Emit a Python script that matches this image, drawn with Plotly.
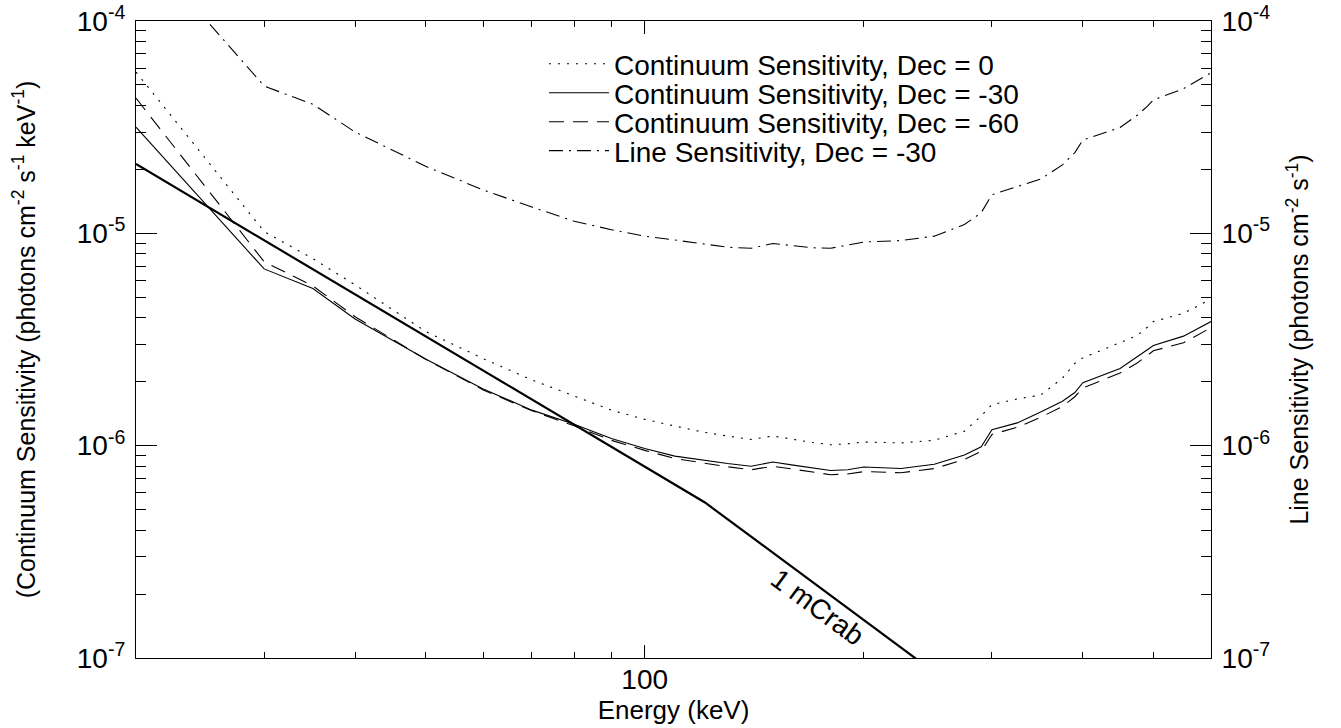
import numpy as np
import plotly.graph_objects as go

# energies (keV) where the sensitivity curves are sampled
energy = [20, 30, 35, 40, 50, 60, 70, 80, 90, 100, 110, 120, 130, 140, 150, 160, 170,
          180, 190, 200, 225, 250, 275, 290, 300, 325, 350, 375, 390, 400, 450, 475,
          490, 500, 550, 600]

cont_dec0 = [5.75e-5, 1.02e-5, 7.6e-6, 5.72e-6, 3.45e-6, 2.57e-6, 2.04e-6, 1.71e-6, 1.47e-6,
             1.33e-6, 1.24e-6, 1.16e-6, 1.11e-6, 1.07e-6, 1.11e-6, 1.07e-6, 1.035e-6,
             1.01e-6, 1.02e-6, 1.04e-6, 1.03e-6, 1.06e-6, 1.17e-6, 1.38e-6, 1.56e-6,
             1.66e-6, 1.73e-6, 2.08e-6, 2.44e-6, 2.59e-6, 3.04e-6, 3.3e-6, 3.6e-6,
             3.84e-6, 4.2e-6, 4.9e-6]

cont_dec30 = [3.16e-5, 6.8e-6, 5.5e-6, 3.95e-6, 2.56e-6, 1.85e-6, 1.47e-6, 1.26e-6, 1.08e-6,
              9.7e-7, 8.93e-7, 8.55e-7, 8.24e-7, 8.0e-7, 8.37e-7, 8.1e-7, 7.85e-7,
              7.64e-7, 7.7e-7, 7.93e-7, 7.81e-7, 8.18e-7, 9.04e-7, 9.88e-7, 1.19e-6,
              1.28e-6, 1.44e-6, 1.62e-6, 1.78e-6, 1.98e-6, 2.31e-6, 2.61e-6, 2.82e-6,
              2.96e-6, 3.28e-6, 3.84e-6]

cont_dec60 = [4.33e-5, 7.35e-6, 5.65e-6, 4.05e-6, 2.55e-6, 1.83e-6, 1.46e-6, 1.24e-6, 1.06e-6,
              9.5e-7, 8.7e-7, 8.3e-7, 7.95e-7, 7.7e-7, 8.0e-7, 7.75e-7, 7.5e-7,
              7.3e-7, 7.35e-7, 7.55e-7, 7.45e-7, 7.8e-7, 8.6e-7, 9.4e-7, 1.13e-6,
              1.22e-6, 1.36e-6, 1.53e-6, 1.7e-6, 1.87e-6, 2.2e-6, 2.45e-6, 2.65e-6,
              2.8e-6, 3.05e-6, 3.6e-6]

line_dec30 = [2.4e-4, 4.94e-5, 4.05e-5, 3.0e-5, 2.07e-5, 1.6e-5, 1.33e-5, 1.14e-5, 1.04e-5,
              9.7e-6, 9.3e-6, 8.9e-6, 8.6e-6, 8.5e-6, 8.95e-6, 8.75e-6, 8.55e-6,
              8.5e-6, 8.8e-6, 9.1e-6, 9.25e-6, 9.7e-6, 1.1e-5, 1.25e-5, 1.52e-5,
              1.66e-5, 1.8e-5, 2.1e-5, 2.4e-5, 2.75e-5, 3.15e-5, 3.6e-5, 3.95e-5,
              4.25e-5, 4.8e-5, 5.7e-5]

crab_energy = [20, 121, 600]
crab_flux = [2.12e-5, 5.4e-7, 9.3e-9]

x_minor = [30, 40, 50, 60, 70, 80, 90, 200, 300, 400, 500]
y_major = [1e-7, 1e-6, 1e-5, 1e-4]
y_labels = ['10<sup>-7</sup>', '10<sup>-6</sup>', '10<sup>-5</sup>', '10<sup>-4</sup>']
y_minor = [m * 10.0**d for d in (-7, -6, -5) for m in range(2, 10)]

FONT = 'Liberation Sans, Arial, Helvetica, sans-serif'

fig = go.Figure()

curves = [
    ('Continuum Sensitivity, Dec = 0', cont_dec0, '2px,7px', 'y', 'legend'),
    ('Continuum Sensitivity, Dec = -30', cont_dec30, 'solid', 'y', 'legend2'),
    ('Continuum Sensitivity, Dec = -60', cont_dec60, '15px,9px', 'y', 'legend3'),
    ('Line Sensitivity, Dec = -30', line_dec30, '14px,6px,2px,6px', 'y2', 'legend4'),
]
for name, vals, dash, yax, leg in curves:
    fig.add_trace(go.Scatter(x=energy, y=vals, name=name, mode='lines', yaxis=yax,
                             legend=leg, line=dict(color='black', width=1.1, dash=dash)))

fig.add_trace(go.Scatter(x=crab_energy, y=crab_flux, mode='lines', showlegend=False,
                         line=dict(color='black', width=2.2)))

fig.add_annotation(x=np.log10(173), y=-6.76, text='1 mCrab', showarrow=False,
                   textangle=36.5, font=dict(size=28, color='black', family=FONT))

leg_rows = [0.9325, 0.887, 0.8414, 0.796]
leg_common = dict(x=0.3795, xanchor='left', yanchor='middle', bgcolor='rgba(0,0,0,0)',
                  font=dict(size=28, color='black', family=FONT), itemwidth=60)
fig.update_layout(
    legend=dict(y=leg_rows[0], **leg_common),
    legend2=dict(y=leg_rows[1], **leg_common),
    legend3=dict(y=leg_rows[2], **leg_common),
    legend4=dict(y=leg_rows[3], **leg_common),
)

axis_common = dict(type='log', showgrid=False, zeroline=False, showline=True,
                   linecolor='black', linewidth=1, ticks='inside', tickcolor='black',
                   tickwidth=1, automargin=False, ticklabeloverflow='allow')

fig.update_layout(
    width=1341, height=728,
    margin=dict(l=136, r=130, t=21, b=70),
    paper_bgcolor='white', plot_bgcolor='white',
    font=dict(family=FONT, color='black', size=26),
    xaxis=dict(range=[np.log10(20), np.log10(600)], tickvals=[100], ticktext=['100'],
               ticklen=13, mirror='ticks', tickfont=dict(size=28), ticklabelstandoff=-4,
               minor=dict(tickvals=x_minor, ticks='inside', ticklen=6, tickcolor='black'),
               title=dict(text='Energy (keV)', font=dict(size=26), standoff=2),
               **axis_common),
    yaxis=dict(range=[-7, -4], tickvals=y_major, ticktext=y_labels, ticklen=21,
               tickfont=dict(size=28), ticklabelstandoff=4,
               minor=dict(tickvals=y_minor, ticks='inside', ticklen=10, tickcolor='black'),
               title=dict(text='(Continuum Sensitivity (photons cm<sup>-2</sup> s<sup>-1</sup> keV<sup>-1</sup>)',
                          font=dict(size=25), standoff=34),
               **axis_common),
    yaxis2=dict(range=[-7, -4], overlaying='y', side='right', tickvals=y_major,
                ticktext=y_labels, ticklen=21, tickfont=dict(size=28), ticklabelstandoff=4,
                minor=dict(tickvals=y_minor, ticks='inside', ticklen=10, tickcolor='black'),
                title=dict(text='Line Sensitivity (photons cm<sup>-2</sup> s<sup>-1</sup>)',
                           font=dict(size=25), standoff=21),
                **axis_common),
)

# drop the default 8px page margin so the figure fills the window exactly
fig.write_html("out.html", config={'displayModeBar': False},
               post_script="document.body.style.margin = '0';")
